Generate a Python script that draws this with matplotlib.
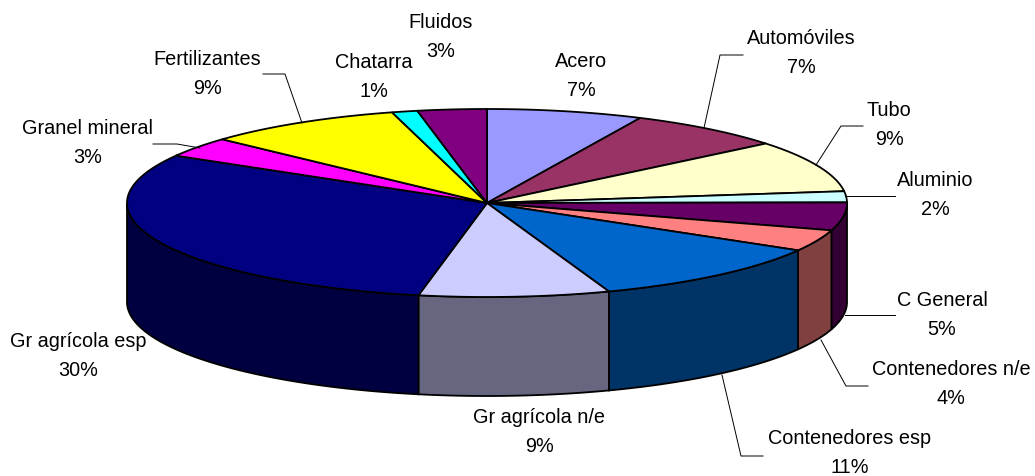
import numpy as np
import matplotlib
matplotlib.use('Agg')
import matplotlib.pyplot as plt

plt.rcParams['font.family'] = ['Liberation Sans', 'DejaVu Sans']

# slices, clockwise from twelve o'clock
labels = ['Acero', 'Automóviles', 'Tubo', 'Aluminio', 'C General', 'Contenedores n/e',
          'Contenedores esp', 'Gr agrícola n/e', 'Gr agrícola esp', 'Granel mineral',
          'Fertilizantes', 'Chatarra', 'Fluidos']
values = [7.0, 7.1, 8.9, 1.9, 4.8, 3.7, 11.1, 8.55, 30.35, 3.45, 8.9, 1.15, 3.1]
top_colors = ['#9999FF', '#993366', '#FFFFCC', '#CCFFFF', '#660066', '#FF8080', '#0066CC',
              '#CCCCFF', '#000080', '#FF00FF', '#FFFF00', '#00FFFF', '#800080']
side_colors = ['#4D4D80', '#4D1A33', '#808066', '#668080', '#330033', '#804040', '#003366',
               '#666680', '#000040', '#800080', '#808000', '#008080', '#400040']

# label centres in pixels
label_x = [581, 801, 889, 935, 942, 951, 850, 539, 78, 88, 207, 374, 441]
label_y = [76, 53, 125, 195, 315, 384, 453, 432, 356, 143, 74, 77, 37]

# leader lines in pixels
leaders = {
    'Automóviles': [(704, 128), (720, 55), (743, 55)],
    'Tubo': [(816, 165), (841, 126), (863, 126)],
    'Aluminio': [(845, 196), (895, 196)],
    'C General': [(845, 315), (895, 315)],
    'Contenedores n/e': [(821, 340), (846, 386), (868, 386)],
    'Contenedores esp': [(722, 375), (741, 456), (763, 456)],
    'Fertilizantes': [(302, 123), (285, 74), (263, 74)],
    'Granel mineral': [(200, 148), (177, 144), (153, 144)],
}

cx, cy = 487, 203
rx, ry = 360, 94
depth = 99


def rim(a):
    a = np.radians(a)
    return cx + rx * np.sin(a), cy - ry * np.cos(a)


fig = plt.figure(figsize=(10.35, 4.76), dpi=100)
ax = fig.add_axes([0, 0, 1, 1])
ax.set_xlim(0, 1035)
ax.set_ylim(476, 0)
ax.axis('off')

edges = np.concatenate([[0], np.cumsum(values)]) * 360 / sum(values)

# side wall, only the front half shows
for i in range(len(values)):
    a0, a1 = max(edges[i], 90), min(edges[i + 1], 270)
    if a1 <= a0:
        continue
    a = np.linspace(a0, a1, 80)
    x, y = rim(a)
    ax.fill(np.r_[x, x[::-1]], np.r_[y, y[::-1] + depth], fc=side_colors[i], ec='black', lw=1.3, zorder=1)

# top face
for i in range(len(values)):
    a = np.linspace(edges[i], edges[i + 1], 120)
    x, y = rim(a)
    ax.fill(np.r_[cx, x], np.r_[cy, y], fc=top_colors[i], ec='black', lw=1.3, zorder=2)

for name, pts in leaders.items():
    px, py = zip(*pts)
    ax.plot(px, py, color='black', lw=0.7, zorder=3)

for name, v, x, y in zip(labels, values, label_x, label_y):
    ax.text(x, y, f'{name}\n{round(v)}%', ha='center', va='center', fontsize=14.3,
            color='black', linespacing=1.66, zorder=4)

fig.savefig('out.png', dpi=100)
